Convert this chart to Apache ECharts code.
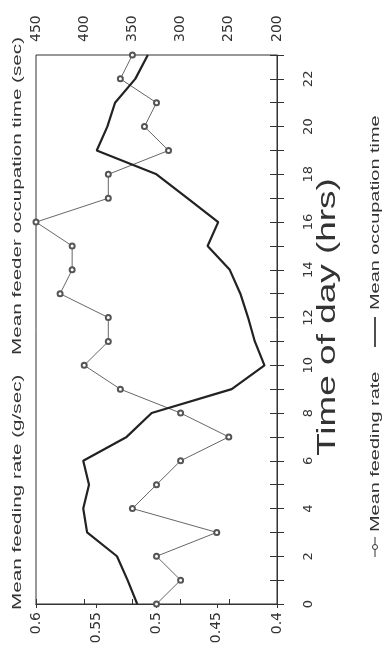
<!DOCTYPE html>
<html>
<head>
<meta charset="utf-8">
<script src="https://cdn.jsdelivr.net/npm/echarts@6/dist/echarts.min.js"></script>
<style>
  html, body { margin: 0; padding: 0; background: #fff; }
  #map { width: 391px; height: 654px; }
</style>
</head>
<body>
<div id="map"></div>
<script>
// hour of day (0-23)
var hours = [0, 1, 2, 3, 4, 5, 6, 7, 8, 9, 10, 11, 12, 13, 14, 15, 16, 17, 18, 19, 20, 21, 22, 23];
// mean feeding rate (g/sec)
var feedingRate = [0.50, 0.48, 0.50, 0.45, 0.52, 0.50, 0.48, 0.44, 0.48, 0.53, 0.56, 0.54,
                   0.54, 0.58, 0.57, 0.57, 0.60, 0.54, 0.54, 0.49, 0.51, 0.50, 0.53, 0.52];
// mean feeder occupation time (sec)
var occupationTime = [345, 355, 366, 397, 401, 395, 401, 356, 330, 247, 213, 223,
                      230, 238, 249, 272, 261, 293, 325, 387, 376, 368, 347, 334];
// axis ranges / tick steps
var rateTicks = [0.4, 0.45, 0.5, 0.55, 0.6];
var occTicks = [200, 250, 300, 350, 400, 450];
var hourLabels = [0, 2, 4, 6, 8, 10, 12, 14, 16, 18, 20, 22];

var ink = "#333";
var labelFont = "DejaVu Sans";
var textFont = "Liberation Sans";

var myChart = echarts.init(document.getElementById("map"));

// text is stretched along its length in the scan, so texts are scaled
function vtext(x, y, text, size, stretch, align) {
  return {
    type: "text",
    x: x,
    y: y,
    rotation: Math.PI / 2,
    scaleX: stretch,
    style: {
      text: text,
      fontSize: size,
      fontFamily: textFont,
      fill: ink,
      align: align,
      verticalAlign: "middle"
    }
  };
}

var option = {
  animation: false,
  backgroundColor: "#fff",
  grid: {
    left: 36,
    right: 114,
    top: 55,
    bottom: 50,
    show: true,
    borderColor: ink,
    borderWidth: 1
  },
  xAxis: [
    {
      type: "value",
      position: "bottom",
      inverse: true,
      min: rateTicks[0],
      max: rateTicks[rateTicks.length - 1],
      interval: 0.05,
      splitLine: { show: false },
      axisLine: { show: true, lineStyle: { color: ink } },
      axisTick: { show: true, length: 4, lineStyle: { color: ink } },
      axisLabel: {
        rotate: 90,
        margin: 8,
        color: ink,
        fontSize: 14,
        fontFamily: labelFont,
        formatter: function (v) { return String(+v.toFixed(2)); }
      }
    },
    {
      type: "value",
      position: "top",
      inverse: true,
      min: occTicks[0],
      max: occTicks[occTicks.length - 1],
      interval: 50,
      splitLine: { show: false },
      axisLine: { show: true, lineStyle: { color: ink } },
      axisTick: { show: true, length: 5, lineStyle: { color: ink } },
      axisLabel: {
        rotate: 90,
        margin: 13,
        color: ink,
        fontSize: 14,
        fontFamily: labelFont
      }
    }
  ],
  yAxis: [
    {
      type: "value",
      position: "right",
      min: 0,
      max: 23,
      interval: 1,
      splitLine: { show: false },
      axisLine: { show: true, lineStyle: { color: ink } },
      axisTick: { show: true, length: 7, lineStyle: { color: ink } },
      axisLabel: {
        rotate: 90,
        margin: 25,
        color: ink,
        fontSize: 13,
        fontFamily: labelFont,
        formatter: function (v) {
          return hourLabels.indexOf(v) >= 0 ? String(v) : "";
        }
      }
    },
    {
      // inner half of the crossing time ticks
      type: "value",
      position: "right",
      min: 0,
      max: 23,
      interval: 1,
      splitLine: { show: false },
      axisLine: { show: false },
      axisTick: { show: true, inside: true, length: 7, lineStyle: { color: ink } },
      axisLabel: { show: false }
    }
  ],
  series: [
    {
      name: "Mean feeding rate",
      type: "line",
      xAxisIndex: 0,
      yAxisIndex: 0,
      data: hours.map(function (h, i) { return [feedingRate[i], h]; }),
      symbol: "emptyCircle",
      symbolSize: 5,
      lineStyle: { width: 1, color: "#666" },
      itemStyle: { color: "#555", borderWidth: 1 }
    },
    {
      name: "Mean occupation time",
      type: "line",
      xAxisIndex: 1,
      yAxisIndex: 0,
      data: hours.map(function (h, i) { return [occupationTime[i], h]; }),
      symbol: "none",
      lineStyle: { width: 2.2, color: "#222" }
    }
  ],
  graphic: [
    vtext(17, 610, "Mean feeding rate (g/sec)", 13.5, 1.53, "left"),
    vtext(17, 355, "Mean feeder occupation time (sec)", 13.5, 1.53, "left"),
    vtext(328, 317, "Time of day (hrs)", 26, 1.42, "center"),
    // legend
    {
      type: "line",
      shape: { x1: 375, y1: 557, x2: 375, y2: 537 },
      style: { stroke: ink, lineWidth: 1 }
    },
    {
      type: "circle",
      shape: { cx: 375, cy: 547, r: 2.5 },
      style: { fill: "#fff", stroke: ink, lineWidth: 1 }
    },
    vtext(375, 532, "Mean feeding rate", 13, 1.53, "left"),
    {
      type: "line",
      shape: { x1: 375, y1: 347, x2: 375, y2: 317 },
      style: { stroke: "#222", lineWidth: 1.6 }
    },
    vtext(375, 310, "Mean occupation time", 13, 1.53, "left")
  ]
};

myChart.setOption(option);
</script>
</body>
</html>
